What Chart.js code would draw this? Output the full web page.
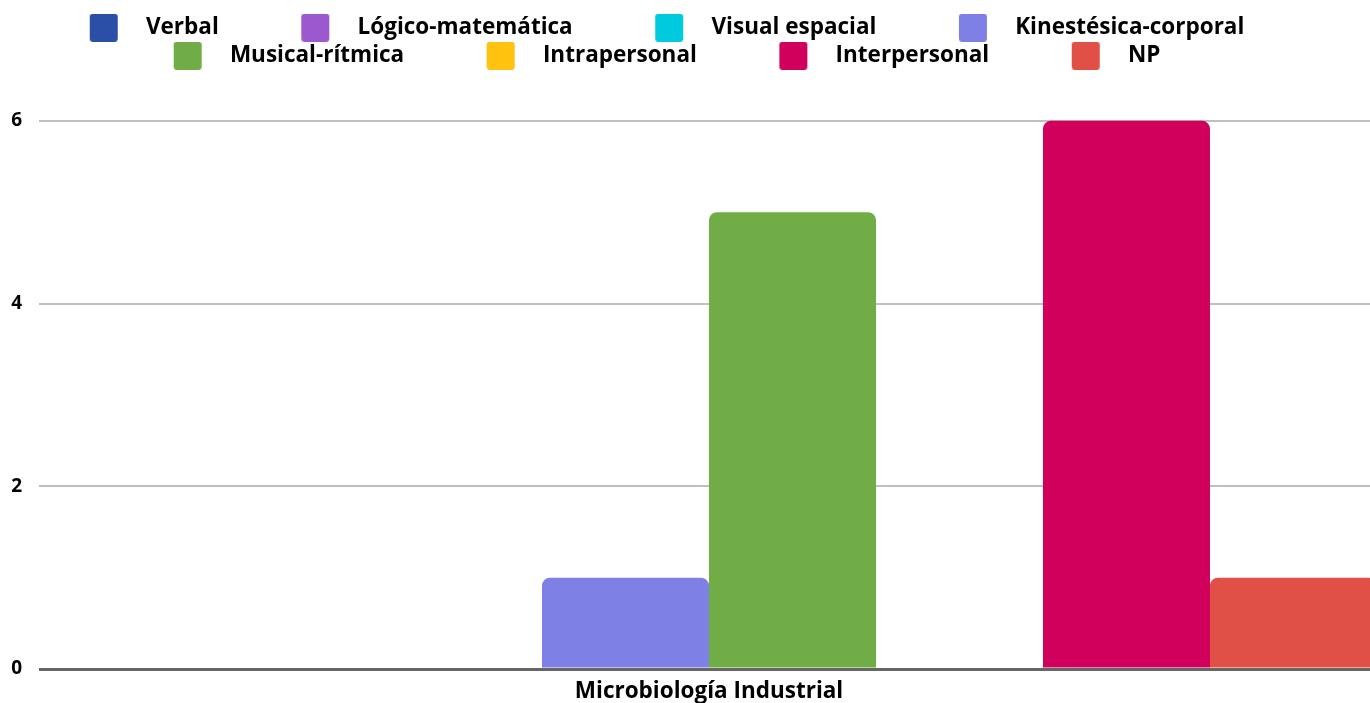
<!DOCTYPE html>
<html>
<head>
<meta charset="utf-8">
<script src="https://cdn.jsdelivr.net/npm/chart.js@4/dist/chart.umd.min.js"></script>
<style>
  html, body { margin: 0; padding: 0; background: #fff; overflow: hidden; }
</style>
</head>
<body>
<canvas id="chart" width="1379" height="703"></canvas>
<script>
const categories = ['Microbiología Industrial'];
const seriesLabels = ['Verbal', 'Lógico-matemática', 'Visual espacial', 'Kinestésica-corporal',
                      'Musical-rítmica', 'Intrapersonal', 'Interpersonal', 'NP'];
const counts = [0, 0, 0, 1, 5, 0, 6, 1];
const yTicks = [0, 2, 4, 6];
const yMax = 6.48;

const colors = ['#2b4ea6', '#9c59cf', '#00cadd', '#7e80e6', '#70ad47', '#ffc20e', '#d0005c', '#e05046'];

// legend swatch: a rounded square drawn at the right end of a wider image,
// so the legend gets wide gaps between entries
function makeSwatch(color) {
  const c = document.createElement('canvas');
  c.width = 122; c.height = 28;
  const ctx = c.getContext('2d');
  ctx.fillStyle = color;
  ctx.beginPath();
  ctx.roundRect(77, 0, 28, 28, 3);
  ctx.fill();
  return c;
}
const swatches = colors.map(makeSwatch);

// the legend sits a bit left of the plot's centre
const legendOffset = {
  id: 'legendOffset',
  afterLayout(chart) {
    chart.legend.left -= 61;
    chart.legend.right -= 61;
  }
};

Chart.defaults.font.family = '"Open Sans", "Noto Sans", sans-serif';
Chart.defaults.font.weight = 'bold';
Chart.defaults.color = '#000';

new Chart(document.getElementById('chart'), {
  type: 'bar',
  data: {
    labels: categories,
    datasets: seriesLabels.map((label, i) => ({
      label,
      data: [counts[i]],
      backgroundColor: colors[i],
      borderWidth: 0,
      borderRadius: { topLeft: 8, topRight: 8 },
      categoryPercentage: 0.997,
      barPercentage: 1,
    })),
  },
  options: {
    responsive: false,
    animation: false,
    layout: { padding: { top: 11, left: 0, right: 0, bottom: -11 } },
    plugins: {
      tooltip: { enabled: false },
      legend: {
        position: 'top',
        labels: {
          usePointStyle: true,
          pointStyleWidth: 122,
          padding: 5.5,
          font: { size: 22.5, weight: 'bold' },
          color: '#000',
          generateLabels(chart) {
            const items = Chart.defaults.plugins.legend.labels.generateLabels(chart);
            items.forEach((it, i) => { it.pointStyle = swatches[i]; });
            return items;
          },
        },
      },
    },
    scales: {
      x: {
        grid: { display: false, drawTicks: false },
        border: { display: false },
        ticks: { font: { size: 22.5, weight: 'bold' }, padding: 9, color: '#000' },
        afterFit(scale) { scale.paddingLeft = 0; scale.paddingRight = 0; },
      },
      y: {
        min: 0,
        max: yMax,
        afterBuildTicks(axis) { axis.ticks = yTicks.map(v => ({ value: v })); },
        afterFit(scale) { scale.width = 39; },
        border: { display: false },
        grid: {
          drawTicks: false,
          color: ctx => ctx.tick && ctx.tick.value === 0 ? '#666666' : '#c0c0c0',
          lineWidth: ctx => ctx.tick && ctx.tick.value === 0 ? 3 : 2,
        },
        ticks: { font: { size: 19, weight: 'bold' }, padding: 17, color: '#000' },
      },
    },
  },
  plugins: [legendOffset],
});
</script>
</body>
</html>
